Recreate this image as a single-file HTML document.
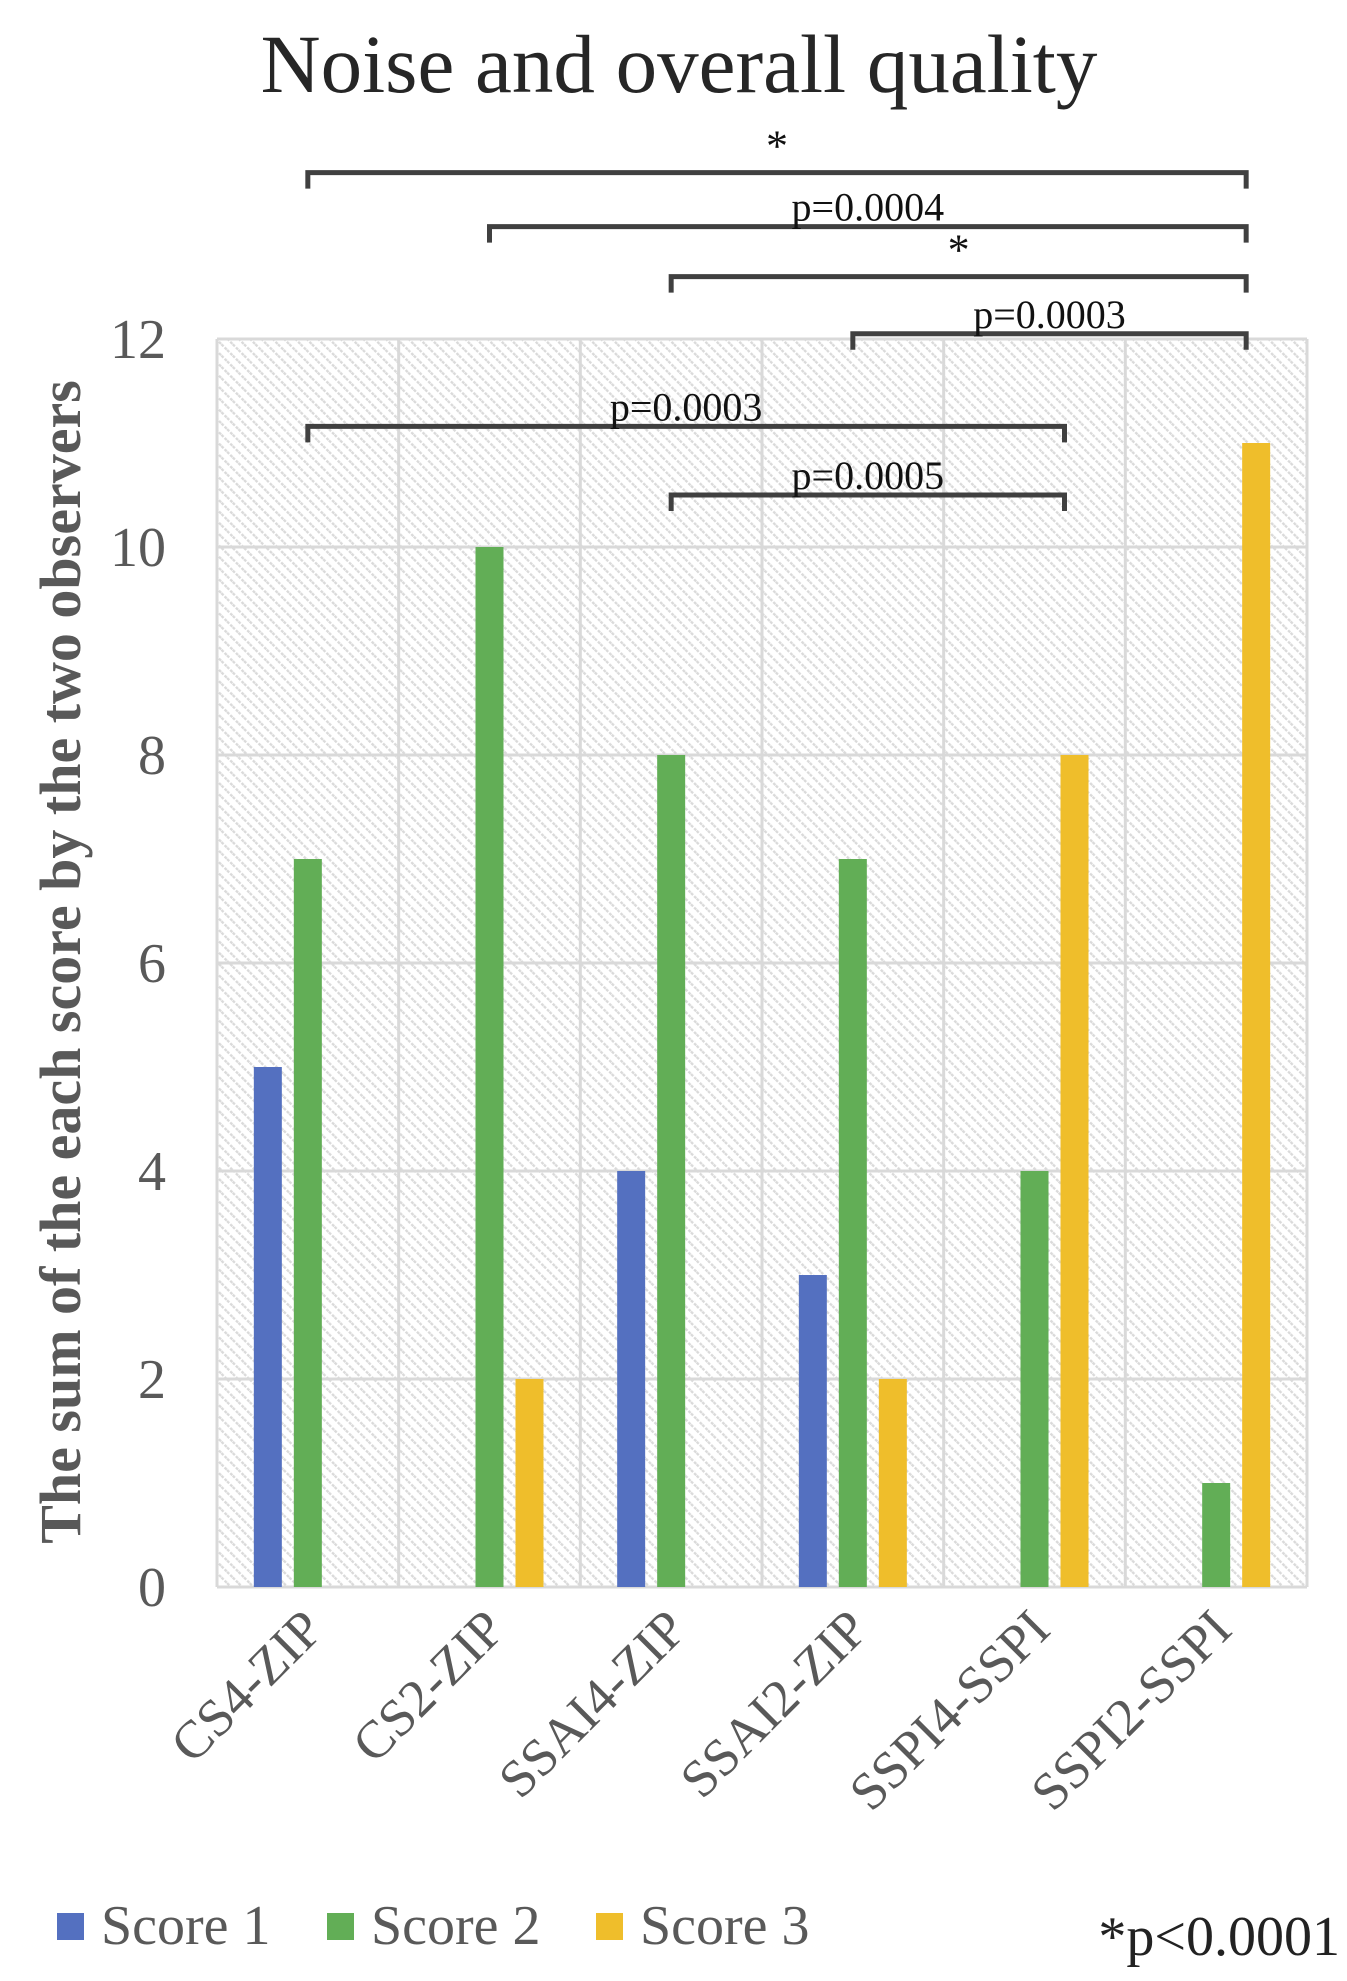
<!DOCTYPE html>
<html><head><meta charset="utf-8"><style>
body{margin:0;background:#fff;}
svg{display:block;font-family:"Liberation Serif",serif;}
</style></head><body>
<svg id="chart" width="1347" height="1981" viewBox="0 0 1347 1981" xmlns="http://www.w3.org/2000/svg">
<defs>
<pattern id="hatch" width="8" height="8" patternUnits="userSpaceOnUse" patternTransform="rotate(-45)">
<rect width="8" height="8" fill="#fff"/>
<line x1="1" y1="0" x2="1" y2="8" stroke="#dadada" stroke-width="2.6" stroke-dasharray="3 1.5"/>
</pattern>
</defs>
<text x="679" y="92" font-size="83" fill="#262626" text-anchor="middle">Noise and overall quality</text>
<g id="plot"></g>
<text transform="translate(80,962) rotate(-90)" font-size="58" font-weight="bold" fill="#595959" text-anchor="middle">The sum of the each score by the two observers</text>
<g id="legend"></g>
<text x="1340" y="1955" font-size="56" fill="#222" text-anchor="end">*p&lt;0.0001</text>
</svg>
<script>
const categories=["CS4-ZIP","CS2-ZIP","SSAI4-ZIP","SSAI2-ZIP","SSPI4-SSPI","SSPI2-SSPI"];
const score1=[5,0,4,3,0,0];
const score2=[7,10,8,7,4,1];
const score3=[0,2,0,2,8,11];
const yTicks=[0,2,4,6,8,10,12];
const seriesNames=["Score 1","Score 2","Score 3"];
const seriesColors=["#5470c0","#62ae56","#efbe2b"];
const bracketFrom=[0,1,2,3,0,2];
const bracketTo=[5,5,5,5,4,4];
const bracketLevel=[13.6,13.08,12.6,12.05,11.16,10.5];
const bracketLabels=["*","p=0.0004","*","p=0.0003","p=0.0003","p=0.0005"];

const NS="http://www.w3.org/2000/svg";
const L=217,R=1307,T=339,B=1587,yMax=12;
const bandW=(R-L)/categories.length;
const y=v=>B-(v/yMax)*(B-T);
const xCenter=i=>L+bandW*(i+0.5);
const barOff=[-40,0,40], barW=28;
const xBar=(i,s)=>xCenter(i)+barOff[s];
function mk(tag,attrs,parent){const e=document.createElementNS(NS,tag);for(const k in attrs)e.setAttribute(k,attrs[k]);parent.appendChild(e);return e;}
const plot=document.getElementById('plot');
const bg=mk('rect',{x:L,y:T,width:R-L,height:B-T,fill:'url(#hatch)'},plot);


yTicks.forEach(t=>{
 const g=mk('line',{x1:L,x2:R,y1:y(t),y2:y(t),stroke:'#d9d9d9','stroke-width':3},plot);
 
 
 const tx=mk('text',{x:166,y:y(t)+19,'font-size':56,fill:'#595959','text-anchor':'end'},plot);
 tx.textContent=t;
 
 
});
for(let i=0;i<=categories.length;i++){
 const v=mk('line',{x1:L+bandW*i,x2:L+bandW*i,y1:T,y2:B,stroke:'#d9d9d9','stroke-width':3},plot);
 
 
}
const series=[score1,score2,score3];
series.forEach((vals,s)=>{
 vals.forEach((v,i)=>{
  if(v<=0)return;
  const r=mk('rect',{x:xBar(i,s)-barW/2,y:y(v),width:barW,height:B-y(v),fill:seriesColors[s]},plot);
  
  
 });
});
categories.forEach((c,i)=>{
 const x=xCenter(i)+18,yy=1632;
 const t=mk('text',{x:x,y:yy,'font-size':53,fill:'#595959','text-anchor':'end',transform:`rotate(-45 ${x} ${yy})`},plot);
 t.textContent=c;
 
 
});
bracketLabels.forEach((lab,k)=>{
 const x1=xBar(bracketFrom[k],1),x2=xBar(bracketTo[k],2)-10;
 const by=y(bracketLevel[k]);
 const p=mk('path',{d:`M${x1},${by+16} V${by} H${x2} V${by+16}`,fill:'none',stroke:'#404040','stroke-width':5},plot);
 
 
 const isStar=lab==='*';
 const t=mk('text',{x:(x1+x2)/2,y:isStar?by-12:by-6,'font-size':isStar?44:40,fill:'#111','text-anchor':'middle'},plot);
 t.textContent=lab;
 
 
});
const legend=document.getElementById('legend');
const legX=[57,327,596];
seriesNames.forEach((n,s)=>{
 const r=mk('rect',{x:legX[s],y:1913,width:27,height:27,fill:seriesColors[s]},legend);
 
 
 const t=mk('text',{x:legX[s]+44,y:1944,'font-size':56,fill:'#595959'},legend);
 t.textContent=n;
 
 
});
</script>
</body></html>
